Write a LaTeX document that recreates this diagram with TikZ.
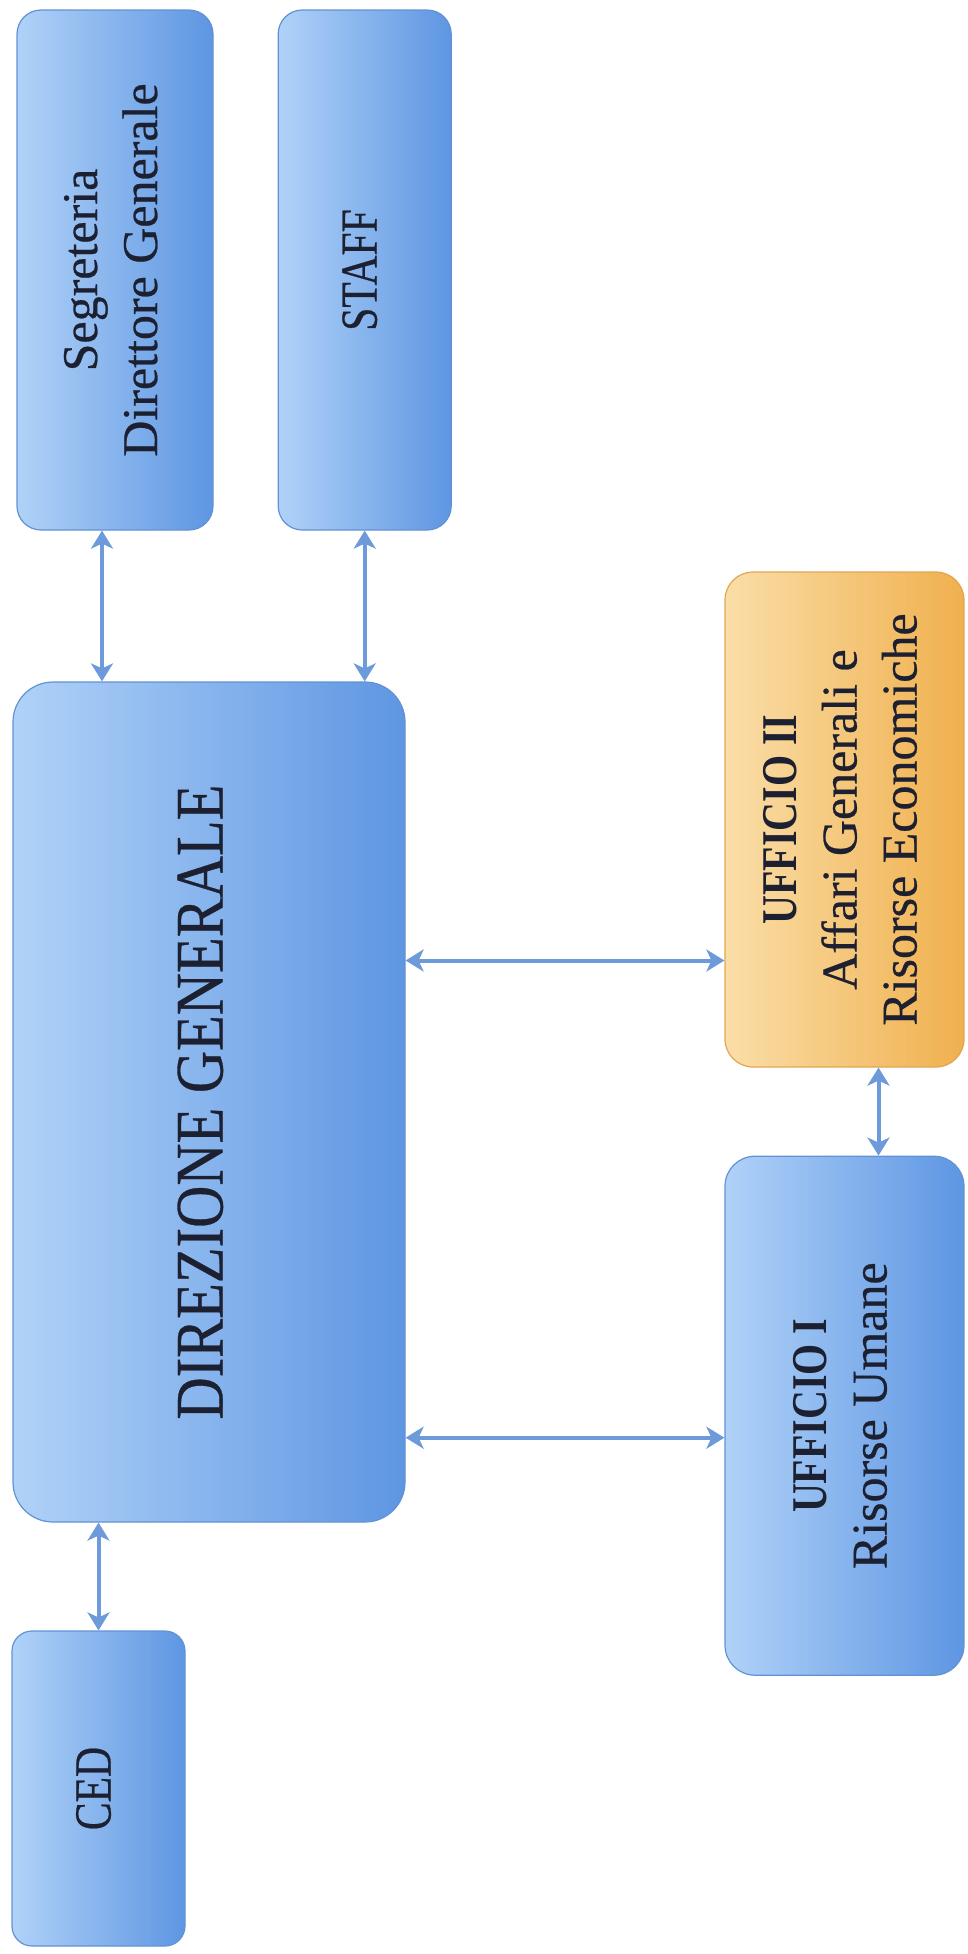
\documentclass[tikz,border=0pt]{standalone}
\usepackage{fontspec}
\setmainfont{Liberation Serif}[UprightFeatures={FakeBold=0.5}]
\usepackage{graphicx}
\usetikzlibrary{arrows.meta,positioning,calc}
\definecolor{boxlight}{RGB}{176,210,248}
\definecolor{boxdark}{RGB}{94,150,226}
\definecolor{boxline}{RGB}{98,146,212}
\definecolor{orglight}{RGB}{250,222,168}
\definecolor{orgdark}{RGB}{240,176,78}
\definecolor{orgline}{RGB}{226,166,82}
\definecolor{link}{RGB}{108,154,218}
\definecolor{ink}{RGB}{28,32,48}
\newcommand{\vlabel}[1]{\rotatebox{90}{\begin{tabular}{@{}c@{}}#1\end{tabular}}}
\newcommand{\capsline}[2][.8]{\scalebox{#1}[1]{#2}}

\begin{document}
\begin{tikzpicture}[x=0.5pt, y=-0.5pt,
  box/.style={draw=boxline, line width=0.6pt, left color=boxlight, right color=boxdark, rounded corners=12pt, inner sep=0pt, text=ink, font=\fontsize{25}{30}\selectfont},
  orangebox/.style={box, draw=orgline, left color=orglight, right color=orgdark},
  arrow/.style={{Stealth[length=9pt,width=11pt,inset=2.5pt]}-{Stealth[length=9pt,width=11pt,inset=2.5pt]}, line width=2pt, draw=link},
]
  \useasboundingbox (0,0) rectangle (968,1954);
  \node[box, minimum width=98pt, minimum height=260pt] (seg) at (115,270) {\vlabel{Segreteria\\ Direttore Generale}};
  \node[box, minimum width=86.5pt, minimum height=260pt, right=32pt of seg] (staff) {\vlabel{\capsline{\fontsize{26}{30}\selectfont STAFF}}};
  \node[box, rounded corners=20pt, minimum width=196pt, minimum height=420pt] (dg) at (209,1102) {\vlabel{\capsline[.86]{\fontsize{34}{40}\selectfont DIREZIONE GENERALE}}};
  \node[orangebox, rounded corners=14pt, minimum width=119.5pt, minimum height=247.5pt] (uii) at (844.5,819.5) {\vlabel{\capsline{\bfseries UFFICIO II}\\ Affari Generali e\\ Risorse Economiche}};
  \node[box, rounded corners=15pt, minimum width=119.5pt, minimum height=259.5pt, below=44pt of uii] (ui) {\vlabel{\capsline{\bfseries UFFICIO I}\\ Risorse Umane}};
  \node[box, rounded corners=10pt, minimum width=86.5pt, minimum height=157.5pt] (ced) at (98.5,1788.5) {\vlabel{\capsline{\fontsize{26}{30}\selectfont CED}}};
  \draw[arrow] ($(seg.south)+(-13,0)$) -- ($(seg.south |- dg.north)+(-13,0)$);
  \draw[arrow] (staff.south) -- (staff.south |- dg.north);
  \draw[arrow] ($(dg.east |- uii.west)+(0,141)$) -- ($(uii.west)+(0,141)$);
  \draw[arrow] ($(dg.east |- ui.west)+(0,22)$) -- ($(ui.west)+(0,22)$);
  \draw[arrow] ($(uii.south)+(34,0)$) -- ($(ui.north)+(34,0)$);
  \draw[arrow] (dg.south -| ced.north) -- (ced.north);
\end{tikzpicture}
\end{document}
